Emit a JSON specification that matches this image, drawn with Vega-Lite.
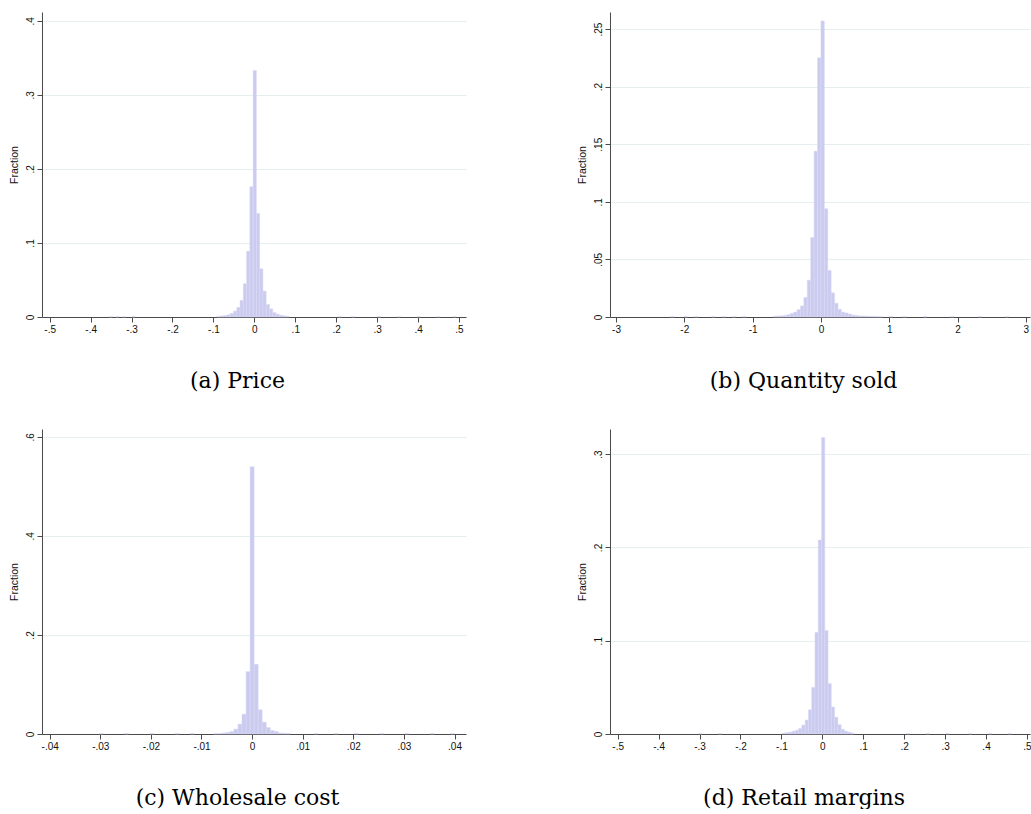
{
  "$schema": "https://vega.github.io/schema/vega-lite/v6.json",
  "background": "white",
  "padding": {"left": 9, "top": 12, "right": 0, "bottom": 0},
  "spacing": 37,
  "config": {
    "view": {"stroke": null},
    "concat": {"spacing": 111},
    "axis": {
      "domainColor": "#4a4a4a",
      "tickColor": "#4a4a4a",
      "tickSize": 5,
      "labelColor": "#111111",
      "labelFont": "Liberation Sans",
      "labelFontSize": 10,
      "titleFont": "Liberation Sans",
      "titleFontSize": 10.5,
      "titleFontWeight": "normal",
      "titleColor": "#111111",
      "labelPadding": 2,
      "grid": false
    },
    "axisY": {
      "grid": true,
      "gridColor": "#e6eff0",
      "gridWidth": 1,
      "labelAngle": -90,
      "labelAlign": "center",
      "labelBaseline": "bottom",
      "titlePadding": 6
    },
    "title": {"font": "DejaVu Serif", "fontSize": 22, "fontWeight": "normal", "color": "#000000", "orient": "bottom", "offset": 37, "frame": "bounds", "anchor": "middle"},
    "rect": {"fill": "#cbcbf0", "stroke": "#dadaf5", "strokeWidth": 0.5}
  },
  "vconcat": [
    {
      "hconcat": [
        {
          "title": {"text": "(a) Price", "orient": "bottom"},
          "width": 424,
          "height": 305,
          "data": {"values": [
            {"x0": -0.355, "x1": -0.347, "fraction": 0.0006},
            {"x0": -0.339, "x1": -0.331, "fraction": 0.0006},
            {"x0": -0.323, "x1": -0.315, "fraction": 0.0006},
            {"x0": -0.299, "x1": -0.291, "fraction": 0.0006},
            {"x0": -0.091, "x1": -0.083, "fraction": 0.001},
            {"x0": -0.083, "x1": -0.075, "fraction": 0.0015},
            {"x0": -0.075, "x1": -0.067, "fraction": 0.002},
            {"x0": -0.067, "x1": -0.059, "fraction": 0.003},
            {"x0": -0.059, "x1": -0.051, "fraction": 0.005},
            {"x0": -0.051, "x1": -0.043, "fraction": 0.008},
            {"x0": -0.043, "x1": -0.035, "fraction": 0.013},
            {"x0": -0.035, "x1": -0.027, "fraction": 0.0225},
            {"x0": -0.027, "x1": -0.019, "fraction": 0.045},
            {"x0": -0.019, "x1": -0.011, "fraction": 0.089},
            {"x0": -0.011, "x1": -0.003, "fraction": 0.176},
            {"x0": -0.003, "x1": 0.005, "fraction": 0.333},
            {"x0": 0.005, "x1": 0.013, "fraction": 0.14},
            {"x0": 0.013, "x1": 0.021, "fraction": 0.065},
            {"x0": 0.021, "x1": 0.029, "fraction": 0.035},
            {"x0": 0.029, "x1": 0.037, "fraction": 0.017},
            {"x0": 0.037, "x1": 0.045, "fraction": 0.011},
            {"x0": 0.045, "x1": 0.053, "fraction": 0.006},
            {"x0": 0.053, "x1": 0.061, "fraction": 0.004},
            {"x0": 0.061, "x1": 0.069, "fraction": 0.0025},
            {"x0": 0.069, "x1": 0.077, "fraction": 0.0015},
            {"x0": 0.077, "x1": 0.085, "fraction": 0.001},
            {"x0": 0.205, "x1": 0.213, "fraction": 0.0006},
            {"x0": 0.237, "x1": 0.245, "fraction": 0.0006},
            {"x0": 0.301, "x1": 0.309, "fraction": 0.0006},
            {"x0": 0.349, "x1": 0.357, "fraction": 0.0006},
            {"x0": 0.397, "x1": 0.405, "fraction": 0.0006},
            {"x0": 0.445, "x1": 0.453, "fraction": 0.0006},
            {"x0": 0.485, "x1": 0.493, "fraction": 0.0006}
          ]},
          "mark": {"type": "rect"},
          "encoding": {
            "x": {"field": "x0", "type": "quantitative", "scale": {"domain": [-0.5188, 0.5171], "nice": false, "zero": false},
              "axis": {"title": null, "values": [-0.5, -0.4, -0.3, -0.2, -0.1, 0, 0.1, 0.2, 0.3, 0.4, 0.5],
                "labelExpr": "(datum.value < 0 ? '-' : '') + replace(format(abs(datum.value), ''), '0.', '.')"}},
            "x2": {"field": "x1"},
            "y": {"field": "fraction", "type": "quantitative", "scale": {"domain": [0, 0.412], "nice": false},
              "axis": {"title": "Fraction", "values": [0, 0.1, 0.2, 0.3, 0.4],
                "labelExpr": "(datum.value < 0 ? '-' : '') + replace(format(abs(datum.value), ''), '0.', '.')"}},
            "y2": {"datum": 0}
          }
        },
        {
          "title": {"text": "(b) Quantity sold", "orient": "bottom"},
          "width": 420,
          "height": 305,
          "data": {"values": [
            {"x0": -2.2, "x1": -2.15, "fraction": 0.0004},
            {"x0": -2.0, "x1": -1.95, "fraction": 0.0004},
            {"x0": -1.85, "x1": -1.8, "fraction": 0.0004},
            {"x0": -1.6, "x1": -1.55, "fraction": 0.0004},
            {"x0": -1.45, "x1": -1.4, "fraction": 0.0004},
            {"x0": -1.3, "x1": -1.25, "fraction": 0.0004},
            {"x0": -1.15, "x1": -1.1, "fraction": 0.0004},
            {"x0": -0.7, "x1": -0.65, "fraction": 0.0007},
            {"x0": -0.65, "x1": -0.6, "fraction": 0.0009},
            {"x0": -0.6, "x1": -0.55, "fraction": 0.001},
            {"x0": -0.55, "x1": -0.5, "fraction": 0.0014},
            {"x0": -0.5, "x1": -0.45, "fraction": 0.002},
            {"x0": -0.45, "x1": -0.4, "fraction": 0.0032},
            {"x0": -0.4, "x1": -0.35, "fraction": 0.0043},
            {"x0": -0.35, "x1": -0.3, "fraction": 0.0064},
            {"x0": -0.3, "x1": -0.25, "fraction": 0.0096},
            {"x0": -0.25, "x1": -0.2, "fraction": 0.017},
            {"x0": -0.2, "x1": -0.15, "fraction": 0.032},
            {"x0": -0.15, "x1": -0.1, "fraction": 0.069},
            {"x0": -0.1, "x1": -0.05, "fraction": 0.144},
            {"x0": -0.05, "x1": 0, "fraction": 0.225},
            {"x0": 0, "x1": 0.05, "fraction": 0.257},
            {"x0": 0.05, "x1": 0.1, "fraction": 0.094},
            {"x0": 0.1, "x1": 0.15, "fraction": 0.0405},
            {"x0": 0.15, "x1": 0.2, "fraction": 0.021},
            {"x0": 0.2, "x1": 0.25, "fraction": 0.012},
            {"x0": 0.25, "x1": 0.3, "fraction": 0.0067},
            {"x0": 0.3, "x1": 0.35, "fraction": 0.0043},
            {"x0": 0.35, "x1": 0.4, "fraction": 0.0035},
            {"x0": 0.4, "x1": 0.45, "fraction": 0.0026},
            {"x0": 0.45, "x1": 0.5, "fraction": 0.0017},
            {"x0": 0.5, "x1": 0.55, "fraction": 0.0014},
            {"x0": 0.55, "x1": 0.6, "fraction": 0.0009},
            {"x0": 0.6, "x1": 0.65, "fraction": 0.0009},
            {"x0": 0.65, "x1": 0.7, "fraction": 0.0008},
            {"x0": 0.7, "x1": 0.75, "fraction": 0.0006},
            {"x0": 0.75, "x1": 0.8, "fraction": 0.0005},
            {"x0": 0.8, "x1": 0.85, "fraction": 0.0004},
            {"x0": 0.85, "x1": 0.9, "fraction": 0.0003},
            {"x0": 1.0, "x1": 1.05, "fraction": 0.0004},
            {"x0": 1.2, "x1": 1.25, "fraction": 0.0004},
            {"x0": 1.5, "x1": 1.55, "fraction": 0.0004},
            {"x0": 1.9, "x1": 1.95, "fraction": 0.0004},
            {"x0": 2.3, "x1": 2.35, "fraction": 0.0004},
            {"x0": 2.7, "x1": 2.75, "fraction": 0.0004}
          ]},
          "mark": {"type": "rect"},
          "encoding": {
            "x": {"field": "x0", "type": "quantitative", "scale": {"domain": [-3.088, 3.061], "nice": false, "zero": false},
              "axis": {"title": null, "values": [-3, -2, -1, 0, 1, 2, 3],
                "labelExpr": "(datum.value < 0 ? '-' : '') + replace(format(abs(datum.value), ''), '0.', '.')"}},
            "x2": {"field": "x1"},
            "y": {"field": "fraction", "type": "quantitative", "scale": {"domain": [0, 0.2648], "nice": false},
              "axis": {"title": "Fraction", "values": [0, 0.05, 0.1, 0.15, 0.2, 0.25],
                "labelExpr": "(datum.value < 0 ? '-' : '') + replace(format(abs(datum.value), ''), '0.', '.')"}},
            "y2": {"datum": 0}
          }
        }
      ]
    },
    {
      "hconcat": [
        {
          "title": {"text": "(c) Wholesale cost", "orient": "bottom"},
          "width": 424,
          "height": 305,
          "data": {"values": [
            {"x0": -0.0302, "x1": -0.0294, "fraction": 0.001},
            {"x0": -0.0252, "x1": -0.0244, "fraction": 0.001},
            {"x0": -0.0202, "x1": -0.0194, "fraction": 0.001},
            {"x0": -0.0152, "x1": -0.0144, "fraction": 0.001},
            {"x0": -0.0122, "x1": -0.0114, "fraction": 0.001},
            {"x0": -0.0076, "x1": -0.0068, "fraction": 0.0007},
            {"x0": -0.0068, "x1": -0.006, "fraction": 0.001},
            {"x0": -0.006, "x1": -0.0052, "fraction": 0.002},
            {"x0": -0.0052, "x1": -0.0044, "fraction": 0.003},
            {"x0": -0.0044, "x1": -0.0036, "fraction": 0.005},
            {"x0": -0.0036, "x1": -0.0028, "fraction": 0.01},
            {"x0": -0.0028, "x1": -0.002, "fraction": 0.02},
            {"x0": -0.002, "x1": -0.0012, "fraction": 0.04},
            {"x0": -0.0012, "x1": -0.0004, "fraction": 0.126},
            {"x0": -0.0004, "x1": 0.0004, "fraction": 0.54},
            {"x0": 0.0004, "x1": 0.0012, "fraction": 0.141},
            {"x0": 0.0012, "x1": 0.002, "fraction": 0.049},
            {"x0": 0.002, "x1": 0.0028, "fraction": 0.024},
            {"x0": 0.0028, "x1": 0.0036, "fraction": 0.013},
            {"x0": 0.0036, "x1": 0.0044, "fraction": 0.007},
            {"x0": 0.0044, "x1": 0.0052, "fraction": 0.005},
            {"x0": 0.0052, "x1": 0.006, "fraction": 0.002},
            {"x0": 0.006, "x1": 0.0068, "fraction": 0.0015},
            {"x0": 0.0068, "x1": 0.0076, "fraction": 0.001},
            {"x0": 0.0122, "x1": 0.013, "fraction": 0.001},
            {"x0": 0.0162, "x1": 0.017, "fraction": 0.001},
            {"x0": 0.0202, "x1": 0.021, "fraction": 0.001},
            {"x0": 0.0252, "x1": 0.026, "fraction": 0.001},
            {"x0": 0.0302, "x1": 0.031, "fraction": 0.001},
            {"x0": 0.0352, "x1": 0.036, "fraction": 0.001},
            {"x0": 0.0392, "x1": 0.04, "fraction": 0.001}
          ]},
          "mark": {"type": "rect"},
          "encoding": {
            "x": {"field": "x0", "type": "quantitative", "scale": {"domain": [-0.04152, 0.04227], "nice": false, "zero": false},
              "axis": {"title": null, "values": [-0.04, -0.03, -0.02, -0.01, 0, 0.01, 0.02, 0.03, 0.04],
                "labelExpr": "(datum.value < 0 ? '-' : '') + replace(format(abs(datum.value), ''), '0.', '.')"}},
            "x2": {"field": "x1"},
            "y": {"field": "fraction", "type": "quantitative", "scale": {"domain": [0, 0.616], "nice": false},
              "axis": {"title": "Fraction", "values": [0, 0.2, 0.4, 0.6],
                "labelExpr": "(datum.value < 0 ? '-' : '') + replace(format(abs(datum.value), ''), '0.', '.')"}},
            "y2": {"datum": 0}
          }
        },
        {
          "title": {"text": "(d) Retail margins", "orient": "bottom"},
          "width": 420,
          "height": 305,
          "data": {"values": [
            {"x0": -0.302, "x1": -0.294, "fraction": 0.0006},
            {"x0": -0.254, "x1": -0.246, "fraction": 0.0006},
            {"x0": -0.098, "x1": -0.09, "fraction": 0.001},
            {"x0": -0.09, "x1": -0.082, "fraction": 0.0015},
            {"x0": -0.082, "x1": -0.074, "fraction": 0.002},
            {"x0": -0.074, "x1": -0.066, "fraction": 0.003},
            {"x0": -0.066, "x1": -0.058, "fraction": 0.004},
            {"x0": -0.058, "x1": -0.05, "fraction": 0.006},
            {"x0": -0.05, "x1": -0.042, "fraction": 0.0096},
            {"x0": -0.042, "x1": -0.034, "fraction": 0.015},
            {"x0": -0.034, "x1": -0.026, "fraction": 0.026},
            {"x0": -0.026, "x1": -0.018, "fraction": 0.05},
            {"x0": -0.018, "x1": -0.01, "fraction": 0.109},
            {"x0": -0.01, "x1": -0.002, "fraction": 0.208},
            {"x0": -0.002, "x1": 0.006, "fraction": 0.318},
            {"x0": 0.006, "x1": 0.014, "fraction": 0.111},
            {"x0": 0.014, "x1": 0.022, "fraction": 0.054},
            {"x0": 0.022, "x1": 0.03, "fraction": 0.029},
            {"x0": 0.03, "x1": 0.038, "fraction": 0.018},
            {"x0": 0.038, "x1": 0.046, "fraction": 0.01},
            {"x0": 0.046, "x1": 0.054, "fraction": 0.005},
            {"x0": 0.054, "x1": 0.062, "fraction": 0.003},
            {"x0": 0.062, "x1": 0.07, "fraction": 0.002},
            {"x0": 0.07, "x1": 0.078, "fraction": 0.001},
            {"x0": 0.206, "x1": 0.214, "fraction": 0.0006},
            {"x0": 0.254, "x1": 0.262, "fraction": 0.0006},
            {"x0": 0.302, "x1": 0.31, "fraction": 0.0006},
            {"x0": 0.358, "x1": 0.366, "fraction": 0.0006},
            {"x0": 0.406, "x1": 0.414, "fraction": 0.0006},
            {"x0": 0.454, "x1": 0.462, "fraction": 0.0006}
          ]},
          "mark": {"type": "rect"},
          "encoding": {
            "x": {"field": "x0", "type": "quantitative", "scale": {"domain": [-0.5188, 0.5074], "nice": false, "zero": false},
              "axis": {"title": null, "values": [-0.5, -0.4, -0.3, -0.2, -0.1, 0, 0.1, 0.2, 0.3, 0.4, 0.5],
                "labelExpr": "(datum.value < 0 ? '-' : '') + replace(format(abs(datum.value), ''), '0.', '.')"}},
            "x2": {"field": "x1"},
            "y": {"field": "fraction", "type": "quantitative", "scale": {"domain": [0, 0.327], "nice": false},
              "axis": {"title": "Fraction", "values": [0, 0.1, 0.2, 0.3],
                "labelExpr": "(datum.value < 0 ? '-' : '') + replace(format(abs(datum.value), ''), '0.', '.')"}},
            "y2": {"datum": 0}
          }
        }
      ]
    }
  ]
}
